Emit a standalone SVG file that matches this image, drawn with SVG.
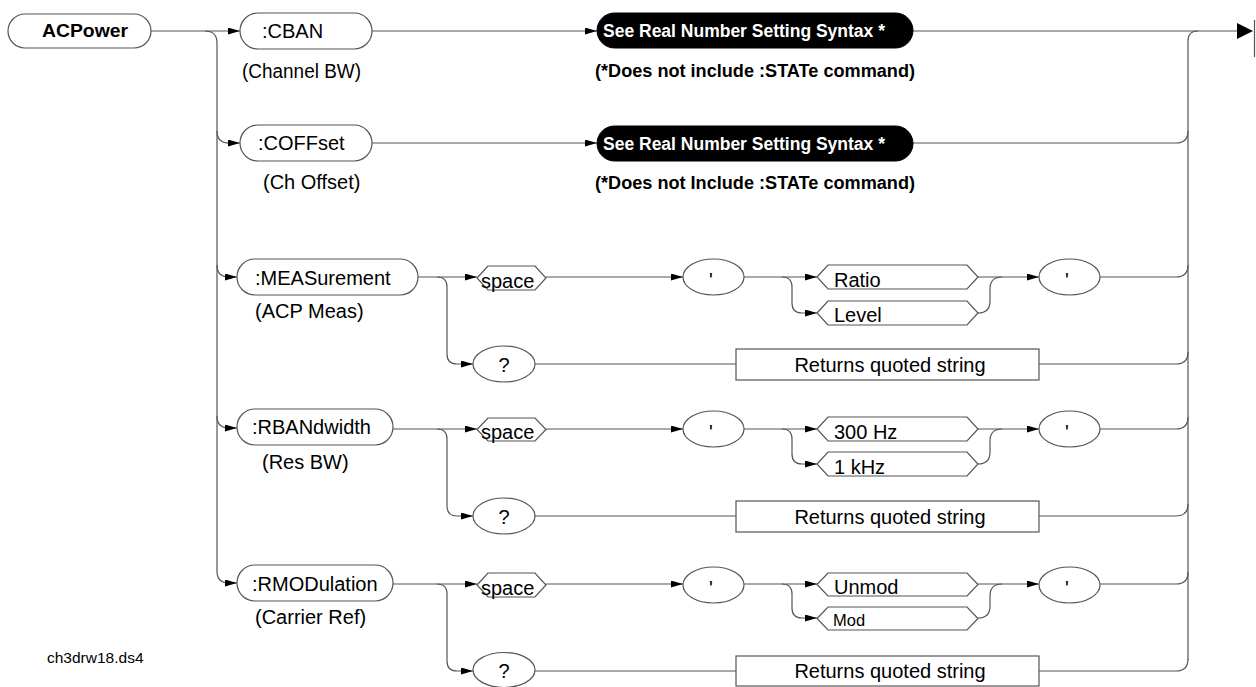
<svg xmlns="http://www.w3.org/2000/svg" width="1256" height="687" viewBox="0 0 1256 687">
<style>
.n{fill:#fff;stroke:#555;stroke-width:1.2}
.p{fill:#000;stroke:#000;stroke-width:1}
.c{fill:none;stroke:#555;stroke-width:1.2}
.t{font-family:"Liberation Sans",Arial,sans-serif;font-size:20px;fill:#000}
.b{font-family:"Liberation Sans",Arial,sans-serif;font-weight:bold;font-size:17.5px;fill:#000}
.w{fill:#fff}
.m{text-anchor:middle}
</style>
<defs>
<marker id="a" markerUnits="userSpaceOnUse" markerWidth="12" markerHeight="7" refX="12" refY="3.5" orient="auto">
<path d="M0,0 L12,3.5 L0,7 z" fill="#000"/>
</marker>
</defs>
<g id="connectors">
<path class="c" d="M151,31 L240,31" marker-end="url(#a)"/>
<path class="c" d="M205,31 Q217,31 217,43 L217,571"/>
<path class="c" d="M217,131 Q217,143 229,143 L240,143" marker-end="url(#a)"/>
<path class="c" d="M217,265 Q217,277 229,277 L237,277" marker-end="url(#a)"/>
<path class="c" d="M217,416 Q217,428 229,428 L237,428" marker-end="url(#a)"/>
<path class="c" d="M217,571 Q217,583 229,583 L237,583" marker-end="url(#a)"/>
<path class="c" d="M372,31 L597,31" marker-end="url(#a)"/>
<path class="c" d="M372,143 L597,143" marker-end="url(#a)"/>
<path class="c" d="M913,31 L1238,31"/>
<path class="c" d="M913,143 L1176,143 Q1188,143 1188,131"/>
<path class="c" d="M1198,31 Q1188,31 1188,41 L1188,660"/>
<!-- MEAS row -->
<path class="c" d="M418,277 L477,277" marker-end="url(#a)"/>
<path class="c" d="M437,277 Q447,277 447,287 L447,354 Q447,364 457,364 L473,364" marker-end="url(#a)"/>
<path class="c" d="M546,277 L683,277" marker-end="url(#a)"/>
<path class="c" d="M744,277 L817,277" marker-end="url(#a)"/>
<path class="c" d="M782,277 Q792,277 792,287 L792,303 Q792,313 802,313 L817,313" marker-end="url(#a)"/>
<path class="c" d="M978,277 L1039,277" marker-end="url(#a)"/>
<path class="c" d="M978,313 Q990,313 990,301 L990,289 Q990,277 1002,277"/>
<path class="c" d="M1100,277 L1176,277 Q1188,277 1188,265"/>
<path class="c" d="M535,364 L736,364"/>
<path class="c" d="M1039,364 L1176,364 Q1188,364 1188,352"/>
<!-- RBAN row -->
<path class="c" d="M393,429 L477,429" marker-end="url(#a)"/>
<path class="c" d="M437,429 Q447,429 447,439 L447,506 Q447,516 457,516 L473,516" marker-end="url(#a)"/>
<path class="c" d="M546,429 L683,429" marker-end="url(#a)"/>
<path class="c" d="M744,429 L817,429" marker-end="url(#a)"/>
<path class="c" d="M782,429 Q792,429 792,439 L792,454 Q792,464 802,464 L817,464" marker-end="url(#a)"/>
<path class="c" d="M978,429 L1039,429" marker-end="url(#a)"/>
<path class="c" d="M978,464 Q990,464 990,452 L990,441 Q990,429 1002,429"/>
<path class="c" d="M1100,429 L1176,429 Q1188,429 1188,417"/>
<path class="c" d="M535,516 L736,516"/>
<path class="c" d="M1039,516 L1176,516 Q1188,516 1188,504"/>
<!-- RMOD row -->
<path class="c" d="M393,584 L477,584" marker-end="url(#a)"/>
<path class="c" d="M437,584 Q447,584 447,594 L447,661 Q447,671 457,671 L473,671" marker-end="url(#a)"/>
<path class="c" d="M546,584 L683,584" marker-end="url(#a)"/>
<path class="c" d="M744,584 L817,584" marker-end="url(#a)"/>
<path class="c" d="M782,584 Q792,584 792,594 L792,608 Q792,618 802,618 L817,618" marker-end="url(#a)"/>
<path class="c" d="M978,584 L1039,584" marker-end="url(#a)"/>
<path class="c" d="M978,618 Q990,618 990,606 L990,596 Q990,584 1002,584"/>
<path class="c" d="M1100,584 L1176,584 Q1188,584 1188,572"/>
<path class="c" d="M535,671 L736,671"/>
<path class="c" d="M1039,671 L1176,671 Q1188,671 1188,659"/>
<!-- terminator -->
<path d="M1237,23 L1253,31 L1237,39 z" fill="#000"/>
<path class="c" d="M1254.5,20 L1254.5,57"/>
</g>

<g id="acpower"><rect class="n" x="8" y="14" width="143" height="34" rx="17"/><text class="b" x="42" y="37" textLength="86" lengthAdjust="spacingAndGlyphs">ACPower</text></g>

<g id="cban"><rect class="n" x="240" y="13" width="132" height="36" rx="18"/><text class="t" x="262" y="38">:CBAN</text><text class="t" x="242" y="78" textLength="119" lengthAdjust="spacingAndGlyphs">(Channel BW)</text></g>
<g id="cban-real"><rect class="p" x="597" y="13" width="316" height="35" rx="17.5"/><text class="b w" x="603" y="37" textLength="282" lengthAdjust="spacingAndGlyphs">See Real Number Setting Syntax *</text><text class="b" x="595" y="77" textLength="320" lengthAdjust="spacingAndGlyphs">(*Does not include :STATe command)</text></g>

<g id="coffset"><rect class="n" x="240" y="125" width="132" height="36" rx="18"/><text class="t" x="258" y="150">:COFFset</text><text class="t" x="263" y="189">(Ch Offset)</text></g>
<g id="coffset-real"><rect class="p" x="597" y="126" width="316" height="35" rx="17.5"/><text class="b w" x="603" y="150" textLength="282" lengthAdjust="spacingAndGlyphs">See Real Number Setting Syntax *</text><text class="b" x="595" y="189" textLength="320" lengthAdjust="spacingAndGlyphs">(*Does not Include :STATe command)</text></g>

<g id="meas"><rect class="n" x="237" y="259" width="181" height="36" rx="18"/><text class="t" x="255" y="285">:MEASurement</text><text class="t" x="255" y="318">(ACP Meas)</text></g>
<g id="meas-space"><path class="n" d="M477,278 L488,266 L535,266 L546,278 L535,290 L488,290 z"/><text class="t" x="481" y="288">space</text></g>
<g id="meas-q1"><ellipse class="n" cx="713.5" cy="277" rx="30.5" ry="18"/><text class="t m" x="711" y="287">'</text></g>
<g id="meas-ratio"><path class="n" d="M817,277 L828,265 L967,265 L978,277 L967,289 L828,289 z"/><text class="t" x="834" y="287">Ratio</text></g>
<g id="meas-level"><path class="n" d="M817,313 L828,301 L967,301 L978,313 L967,325 L828,325 z"/><text class="t" x="834" y="322">Level</text></g>
<g id="meas-q2"><ellipse class="n" cx="1069.5" cy="277" rx="30.5" ry="18"/><text class="t m" x="1067" y="287">'</text></g>
<g id="meas-query"><ellipse class="n" cx="504" cy="364" rx="31" ry="18"/><text class="t m" x="504" y="372">?</text></g>
<g id="meas-ret"><rect class="n" x="736" y="349" width="303" height="31"/><text class="t m" x="890" y="372">Returns quoted string</text></g>

<g id="rban"><rect class="n" x="237" y="409" width="156" height="36" rx="18"/><text class="t" x="252" y="434">:RBANdwidth</text><text class="t" x="262" y="469">(Res BW)</text></g>
<g id="rban-space"><path class="n" d="M477,429.5 L488,418 L535,418 L546,429.5 L535,441 L488,441 z"/><text class="t" x="481" y="439">space</text></g>
<g id="rban-q1"><ellipse class="n" cx="713.5" cy="429" rx="30.5" ry="18"/><text class="t m" x="711" y="439">'</text></g>
<g id="rban-300"><path class="n" d="M817,429 L828,417 L967,417 L978,429 L967,441 L828,441 z"/><text class="t" x="834" y="439">300 Hz</text></g>
<g id="rban-1k"><path class="n" d="M817,464 L828,452 L967,452 L978,464 L967,476 L828,476 z"/><text class="t" x="834" y="474">1 kHz</text></g>
<g id="rban-q2"><ellipse class="n" cx="1069.5" cy="429" rx="30.5" ry="18"/><text class="t m" x="1067" y="439">'</text></g>
<g id="rban-query"><ellipse class="n" cx="504" cy="516" rx="31" ry="18"/><text class="t m" x="504" y="524">?</text></g>
<g id="rban-ret"><rect class="n" x="736" y="501" width="303" height="31"/><text class="t m" x="890" y="524">Returns quoted string</text></g>

<g id="rmod"><rect class="n" x="237" y="565" width="156" height="36" rx="18"/><text class="t" x="252" y="591">:RMODulation</text><text class="t" x="255" y="624">(Carrier Ref)</text></g>
<g id="rmod-space"><path class="n" d="M477,585 L488,573 L535,573 L546,585 L535,597 L488,597 z"/><text class="t" x="481" y="595">space</text></g>
<g id="rmod-q1"><ellipse class="n" cx="713.5" cy="585" rx="30.5" ry="18"/><text class="t m" x="711" y="595">'</text></g>
<g id="rmod-unmod"><path class="n" d="M817,584.5 L828,573 L967,573 L978,584.5 L967,596 L828,596 z"/><text class="t" x="834" y="594">Unmod</text></g>
<g id="rmod-mod"><path class="n" d="M817,618.5 L828,607 L967,607 L978,618.5 L967,630 L828,630 z"/><text class="t" x="833" y="626" style="font-size:16.5px">Mod</text></g>
<g id="rmod-q2"><ellipse class="n" cx="1069.5" cy="585" rx="30.5" ry="18"/><text class="t m" x="1067" y="595">'</text></g>
<g id="rmod-query"><ellipse class="n" cx="504" cy="670" rx="31" ry="17.5"/><text class="t m" x="504" y="678">?</text></g>
<g id="rmod-ret"><rect class="n" x="736" y="656" width="303" height="30"/><text class="t m" x="890" y="678">Returns quoted string</text></g>

<text class="t" x="47" y="663" style="font-size:15.5px">ch3drw18.ds4</text>
</svg>
